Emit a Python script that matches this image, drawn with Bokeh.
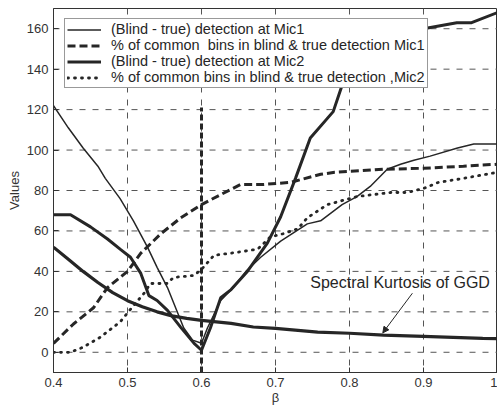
from bokeh.plotting import figure
from bokeh.embed import file_html
from bokeh.resources import INLINE
from bokeh.models import Label, Arrow, NormalHead, FixedTicker, Span

# ---- data ----
beta_mic1_bt = [0.40, 0.42, 0.44, 0.46, 0.47, 0.49, 0.508, 0.527, 0.54, 0.554, 0.565, 0.576, 0.588, 0.60,
                0.608, 0.626, 0.643, 0.66, 0.68, 0.707, 0.72, 0.743, 0.761, 0.79, 0.81, 0.828, 0.851,
                0.869, 0.887, 0.909, 0.946, 0.968, 1.0]
mic1_blind_true = [122, 111, 101, 92, 86, 76, 65, 52, 42, 32, 22, 12, 6, 4.5,
                   12, 25.6, 32, 40, 47, 55, 58, 63.5, 65, 73, 77, 82, 90.5,
                   93, 95, 97, 101, 103, 103]

beta_mic1_pc = [0.40, 0.427, 0.454, 0.473, 0.49, 0.50, 0.518, 0.545, 0.572, 0.60, 0.626, 0.653, 0.684,
                0.72, 0.761, 0.78, 0.846, 0.90, 0.954, 1.0]
mic1_pct_common = [4.4, 14, 22, 32, 37, 40, 49, 58.6, 66.5, 73, 78, 83, 83,
                   84, 88, 89, 90.5, 91, 92, 93]

beta_mic2_bt = [0.40, 0.423, 0.45, 0.473, 0.49, 0.504, 0.518, 0.529, 0.54, 0.554, 0.572, 0.59, 0.60,
                0.612, 0.626, 0.64, 0.662, 0.689, 0.707, 0.727, 0.747, 0.778, 0.79, 0.82, 0.86, 0.90,
                0.945, 0.965, 1.0]
mic2_blind_true = [68, 68, 62, 56, 51, 47, 39, 28, 25.6, 20.7, 12.3, 4.4, 1,
                   12, 27, 31, 40, 54, 67, 86, 106, 119, 132, 145, 155, 160,
                   163, 163, 168]

beta_mic2_pc = [0.40, 0.423, 0.44, 0.463, 0.49, 0.508, 0.522, 0.531, 0.554, 0.562, 0.59, 0.60, 0.617,
                0.64, 0.676, 0.693, 0.71, 0.73, 0.743, 0.77, 0.81, 0.855, 0.878, 0.90, 0.92, 0.954, 1.0]
mic2_pct_common = [0, 0, 2.5, 7.4, 15, 23, 29, 34, 34, 37, 38, 41, 48,
                   49, 51, 57, 58.6, 61, 66.5, 73, 77, 79, 79, 81, 84, 86, 89]

beta_kurt = [0.40, 0.42, 0.44, 0.46, 0.48, 0.50, 0.52, 0.54, 0.56, 0.58, 0.60, 0.64, 0.67, 0.70,
             0.757, 0.80, 0.846, 0.90, 0.98, 1.0]
spectral_kurtosis = [52, 46, 40, 34.5, 29.5, 25.5, 22.5, 20, 18, 16.8, 15.8, 14.3, 12.5, 11.8,
                     10, 9.4, 8.5, 7.9, 6.9, 6.7]

beta_marker = [0.6, 0.6]
beta_marker_values = [-10, 121]

x_ticks = [0.4, 0.5, 0.6, 0.7, 0.8, 0.9, 1.0]
x_tick_labels = ["0.4", "0.5", "0.6", "0.7", "0.8", "0.9", "1"]
y_ticks = [0, 20, 40, 60, 80, 100, 120, 140, 160]

labels = ["(Blind - true) detection at Mic1",
          "% of common  bins in blind & true detection Mic1",
          "(Blind - true) detection at Mic2",
          "% of common bins in blind & true detection ,Mic2"]
annot_text = "Spectral Kurtosis of GGD"

FONT = "Liberation Sans"
INK = "#262626"
GRID = "#555555"

p = figure(width=497, height=408, x_range=(0.4, 1.0), y_range=(-10, 170),
           output_backend="svg", toolbar_location=None,
           min_border_left=53, min_border_right=0, min_border_top=8, min_border_bottom=36)
p.background_fill_color = "white"
p.border_fill_color = "white"
p.outline_line_color = "#333333"
p.outline_line_width = 1

p.xaxis.ticker = FixedTicker(ticks=x_ticks)
p.yaxis.ticker = FixedTicker(ticks=y_ticks)
p.xaxis.major_label_overrides = {t: l for t, l in zip(x_ticks, x_tick_labels)}

# dashed grid, drawn as spans at the tick positions
p.xgrid.grid_line_color = None
p.ygrid.grid_line_color = None
for t in x_ticks[1:-1]:
    p.add_layout(Span(location=t, dimension="height", line_color=GRID, line_width=1,
                      line_dash="6 7", level="underlay"))
for t in y_ticks:
    p.add_layout(Span(location=t, dimension="width", line_color=GRID, line_width=1,
                      line_dash="6 7", level="underlay"))

for ax in (p.xaxis, p.yaxis):
    ax.major_tick_in = 5
    ax.major_tick_out = 0
    ax.minor_tick_line_color = None
    ax.axis_line_color = "#333333"
    ax.major_tick_line_color = "#333333"
    ax.major_label_text_font = FONT
    ax.major_label_text_font_size = "13px"
    ax.major_label_text_color = "#333333"
    ax.axis_label_text_font = FONT
    ax.axis_label_text_font_size = "13px"
    ax.axis_label_text_font_style = "normal"
    ax.axis_label_text_color = "#333333"
p.xaxis.major_label_standoff = 5
p.yaxis.major_label_standoff = 5
p.yaxis.axis_label = "Values"
p.yaxis.axis_label_standoff = 2
p.xaxis.axis_label = "\u03b2"
p.xaxis.axis_label_standoff = 0

# vertical dashed marker at beta = 0.6
p.line(beta_marker, beta_marker_values, line_color=INK, line_width=3, line_dash="6 3")

# curves
p.line(beta_kurt, spectral_kurtosis, line_color=INK, line_width=3.2)
p.line(beta_mic1_bt, mic1_blind_true, line_color=INK, line_width=1.5, legend_label=labels[0])
p.line(beta_mic1_pc, mic1_pct_common, line_color=INK, line_width=3, line_dash="8 4",
       legend_label=labels[1])
p.line(beta_mic2_bt, mic2_blind_true, line_color=INK, line_width=3, legend_label=labels[2])
p.line(beta_mic2_pc, mic2_pct_common, line_color=INK, line_width=2.8, line_dash="1 6",
       line_cap="round", legend_label=labels[3])

# annotation
p.add_layout(Label(x=0.747, y=34.5, text=annot_text, text_font=FONT,
                   text_font_size="16px", text_color=INK, text_align="left",
                   text_baseline="middle"))
p.add_layout(Arrow(x_start=0.885, y_start=29.2, x_end=0.845, y_end=9.6,
                   line_color=INK, line_width=1,
                   end=NormalHead(size=6, fill_color=INK, line_color=INK)))

# legend
lg = p.legend[0]
lg.location = (11, 284)
lg.border_line_color = "#333333"
lg.border_line_width = 1
lg.background_fill_color = "white"
lg.background_fill_alpha = 1
lg.label_text_font = FONT
lg.label_text_font_size = "14.5px"
lg.label_text_color = INK
lg.glyph_width = 34
lg.glyph_height = 15
lg.label_height = 15
lg.label_standoff = 10
lg.spacing = 0
lg.padding = 2
lg.margin = 0

open("out.html", "w").write(file_html(p, INLINE))
